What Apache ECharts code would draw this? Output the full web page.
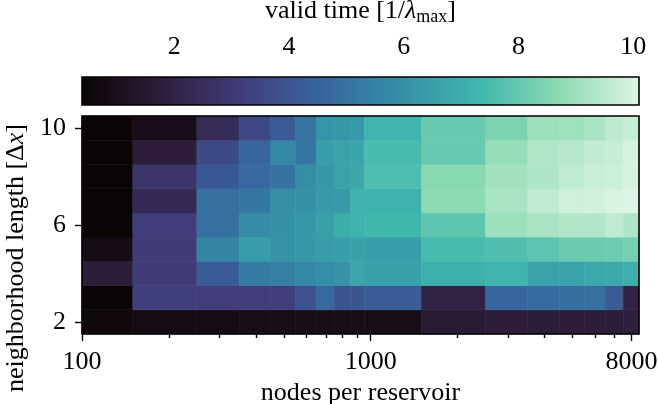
<!DOCTYPE html>
<html><head><meta charset="utf-8">
<script src="https://cdn.jsdelivr.net/npm/echarts@6/dist/echarts.min.js"></script>
<style>html,body{margin:0;padding:0;background:#fff}#c{width:658px;height:404px}</style>
</head><body><div id="c"></div>
<script>
// ---- data ----
const nodes = [100,200,300,400,500,600,700,800,900,1000,2000,3000,4000,5000,6000,7000,8000];
const lengths = [2,3,4,5,6,7,8,9,10];
// valid time, one row per neighborhood length (2 .. 10), one column per node count
const vt_len2  = [0.6,0.75,0.75,0.85,0.85,0.85,0.85,0.85,0.85,0.85,1.6,1.75,1.7,1.75,1.75,1.7,1.8];
const vt_len3  = [0.4,3.25,3.15,3.15,3.15,3.9,4.7,3.95,4.0,4.25,2.0,4.6,4.75,4.85,4.9,4.2,1.95];
const vt_len4  = [1.7,3.1,4.2,5.2,5.4,5.7,5.9,6.05,6.7,6.55,7.1,7.25,6.6,6.6,6.8,6.85,7.05];
const vt_len5  = [0.8,3.1,5.6,6.4,6.05,6.2,6.35,6.45,6.55,6.45,7.5,7.65,7.85,8.1,8.1,8.15,8.3];
const vt_len6  = [0.4,3.15,4.9,5.85,6.0,6.2,6.5,7.0,7.15,7.35,7.9,9.0,9.2,9.35,9.35,9.6,9.3];
const vt_len7  = [0.4,2.3,4.95,5.15,5.95,6.0,6.25,6.3,7.2,7.15,8.75,9.2,9.6,9.85,9.9,10.0,10.1];
const vt_len8  = [0.4,2.8,4.15,4.65,5.0,5.9,6.2,6.6,6.7,7.6,8.65,9.1,9.3,9.6,9.75,9.8,9.95];
const vt_len9  = [0.4,1.75,3.6,4.6,5.7,5.1,6.45,6.6,6.65,7.5,8.05,8.9,9.35,9.45,9.65,9.7,9.95];
const vt_len10 = [0.4,0.9,2.4,3.55,4.2,5.05,6.15,6.2,6.25,7.25,8.05,8.45,9.0,9.05,9.2,9.55,9.7];
const validTime = [vt_len2,vt_len3,vt_len4,vt_len5,vt_len6,vt_len7,vt_len8,vt_len9,vt_len10];

const xLabelTicks = [100,1000,8000];
const xMinorTicks = [200,300,400,500,600,700,800,900,2000,3000,4000,5000,6000,7000];
const yTicks = [2,6,10];
const colorbarTicks = [2,4,6,8,10];
const vMin = 0.39, vMax = 10.1;
const makoColors = ['#0b0405','#2e1e3b','#413d7b','#37659e','#348fa7','#40b7ad','#8bdab2','#def5e5'];

// ---- build ----
const FONT = 'Liberation Serif';
const FS = 26;
const edges = [];
for (let i = 0; i <= nodes.length; i++) {
  if (i === 0) edges.push(nodes[0] - (nodes[1] - nodes[0]) / 2);
  else if (i === nodes.length) edges.push(nodes[i-1] + (nodes[i-1] - nodes[i-2]) / 2);
  else edges.push((nodes[i-1] + nodes[i]) / 2);
}
const cells = [];
lengths.forEach((L, r) => nodes.forEach((n, c) => {
  cells.push([edges[c], edges[c+1], L - 0.5, L + 0.5, validTime[r][c]]);
}));
const xMaxEdge = edges[edges.length - 1];

function renderCell(params, api) {
  const p0 = api.coord([api.value(0), api.value(3)]);
  const p1 = api.coord([api.value(1), api.value(2)]);
  const cs = params.coordSys;
  const x0 = Math.max(p0[0], cs.x), x1 = Math.min(p1[0], cs.x + cs.width);
  const y0 = Math.max(p0[1], cs.y), y1 = Math.min(p1[1], cs.y + cs.height);
  const col = api.visual('color');
  return {type: 'rect', shape: {x: x0, y: y0, width: x1 - x0, height: y1 - y0},
          style: {fill: col, stroke: col, lineWidth: 0.6}};
}
function renderBar(params, api) {
  const p0 = api.coord([api.value(0), 1]);
  const p1 = api.coord([api.value(1), 0]);
  const stops = makoColors.map((c, i) => ({offset: i / (makoColors.length - 1), color: c}));
  return {type: 'rect', shape: {x: p0[0], y: p0[1], width: p1[0] - p0[0], height: p1[1] - p0[1]},
          style: {fill: new echarts.graphic.LinearGradient(0, 0, 1, 0, stops)}};
}

const lineStyle = {color: '#000', width: 1.4};
const txt = {fontFamily: FONT, fontSize: FS, color: '#000'};

const option = {
  animation: false,
  backgroundColor: '#fff',
  grid: [
    {left: 82, right: 19, top: 116, bottom: 70, show: true, borderColor: '#000', borderWidth: 1.6,
     backgroundColor: 'transparent', z: 10, containLabel: false, outerBoundsMode: 'none'},
    {left: 82, right: 19, top: 77, height: 28, show: true, borderColor: '#000', borderWidth: 1.6,
     backgroundColor: 'transparent', z: 10, containLabel: false, outerBoundsMode: 'none'}
  ],
  xAxis: [
    {type: 'log', gridIndex: 0, min: nodes[0], max: xMaxEdge, position: 'bottom',
     axisLine: {show: false}, splitLine: {show: false},
     axisTick: {customValues: xLabelTicks, length: 7, lineStyle: lineStyle},
     axisLabel: {customValues: xLabelTicks, margin: 15, formatter: v => String(v), ...txt},
     name: 'nodes per reservoir', nameLocation: 'middle', nameGap: 39, nameTextStyle: {...txt}},
    {type: 'log', gridIndex: 0, min: nodes[0], max: xMaxEdge, position: 'bottom',
     axisLine: {show: false}, splitLine: {show: false},
     axisTick: {customValues: xMinorTicks, length: 4, lineStyle: lineStyle},
     axisLabel: {show: false}},
    {type: 'value', gridIndex: 1, min: vMin, max: vMax, position: 'top',
     axisLine: {show: false}, splitLine: {show: false},
     axisTick: {customValues: colorbarTicks, length: 7, lineStyle: lineStyle},
     axisLabel: {customValues: colorbarTicks, margin: 17, ...txt},
     name: '{a|valid time [1/}{b|λ}{s|max}{a|]}', nameLocation: 'middle', nameGap: 51,
     nameTextStyle: {rich: {
       a: {...txt, lineHeight: 30, verticalAlign: 'middle'},
       b: {...txt, fontStyle: 'italic', lineHeight: 30, verticalAlign: 'middle'},
       s: {fontFamily: FONT, fontSize: 18, color: '#000', lineHeight: 17, verticalAlign: 'bottom'}
     }}}
  ],
  yAxis: [
    {type: 'value', gridIndex: 0, min: lengths[0] - 0.5, max: lengths[lengths.length - 1] + 0.5,
     axisLine: {show: false}, splitLine: {show: false},
     axisTick: {customValues: yTicks, length: 7, lineStyle: lineStyle},
     axisLabel: {customValues: yTicks, margin: 16, ...txt},
     name: '{a|neighborhood length [Δ}{b|x}{a|]}', nameLocation: 'middle', nameGap: 53, nameRotate: 90,
     nameTextStyle: {padding: [0, 66, 0, 0], rich: {
       a: {...txt}, b: {...txt, fontStyle: 'italic'}
     }}},
    {type: 'value', gridIndex: 1, min: 0, max: 1, show: false}
  ],
  visualMap: {type: 'continuous', show: false, min: vMin, max: vMax, dimension: 4, seriesIndex: 0,
              inRange: {color: makoColors}},
  series: [
    {type: 'custom', xAxisIndex: 0, yAxisIndex: 0, renderItem: renderCell, data: cells,
     encode: {x: [0, 1], y: [2, 3]}},
    {type: 'custom', xAxisIndex: 2, yAxisIndex: 1, renderItem: renderBar, data: [[vMin, vMax]],
     encode: {x: [0, 1]}}
  ]
};
const chart = echarts.init(document.getElementById('c'));
chart.setOption(option);
</script></body></html>
